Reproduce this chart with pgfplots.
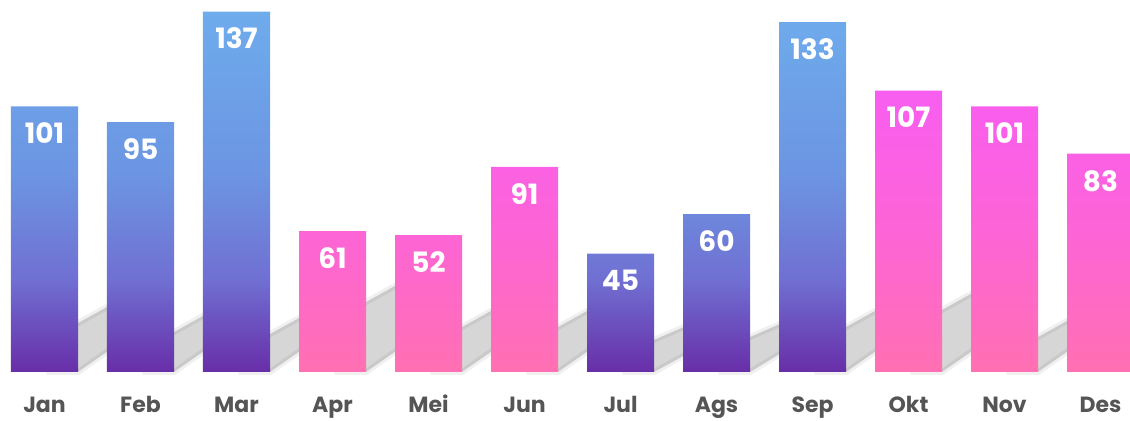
\documentclass[border=0pt]{standalone}
\usepackage{pgfplots}
\pgfplotsset{compat=1.18}
\usepackage{fontspec}
\setmainfont{Poppins}

\definecolor{blueTop}{RGB}{110,172,236}
\definecolor{blueBot}{RGB}{104,46,168}
\definecolor{pinkTop}{RGB}{248,94,240}
\definecolor{pinkBot}{RGB}{255,112,178}
\definecolor{monthGrey}{RGB}{85,85,85}
% vertical gradients, stretched to each bar (25bp = bottom, 75bp = top)
\pgfdeclareverticalshading{bluebar}{100bp}{
    color(0bp)=(blueBot); color(25bp)=(blueBot);
    color(38bp)=(rgb,255:red,112;green,112;blue,210);
    color(52bp)=(rgb,255:red,108;green,148;blue,226);
    color(75bp)=(blueTop); color(100bp)=(blueTop)}
\pgfdeclareverticalshading{pinkbar}{100bp}{
    color(0bp)=(pinkBot); color(25bp)=(pinkBot);
    color(50bp)=(rgb,255:red,253;green,100;blue,214);
    color(75bp)=(pinkTop); color(100bp)=(pinkTop)}

\begin{document}
\begin{tikzpicture}
\begin{axis}[
    width=565pt, height=210.5pt, scale only axis,
    xmin=-0.4635, xmax=11.307,
    ymin=-18.63, ymax=141.44,
    axis line style={draw=none},
    major tick length=0pt,
    ytick=\empty,
    xtick={0,...,11},
    xticklabels={Jan,Feb,Mar,Apr,Mei,Jun,Jul,Ags,Sep,Okt,Nov,Des},
    xticklabel style={anchor=base, yshift=4pt, font=\fontsize{11}{13}\selectfont\bfseries, text=monthGrey},
    clip=true,
]
\coordinate (sw) at (rel axis cs:0,0);
\coordinate (ne) at (rel axis cs:1,1);

% soft grey shadows behind the bars
\pgfplotsset{shadow/.style={fill=black, fill opacity=0.16, draw=black, draw opacity=0.06, line width=3pt, forget plot}}
\addplot[shadow] coordinates {(0.05,0) (0.349,0) (0.799,11.5) (0.799,27.7) (0.349,18.6) (0.05,18.6)} --cycle;
\addplot[shadow] coordinates {(1.05,0) (1.349,0) (1.799,11.5) (1.799,24.3) (1.349,15.2) (1.05,15.2)} --cycle;
\addplot[shadow] coordinates {(2.05,0) (2.349,0) (2.799,11.5) (2.799,23.5) (2.349,14.4) (2.05,14.4)} --cycle;
\addplot[shadow] coordinates {(3.05,0) (3.349,0) (3.799,11.5) (3.799,35.7) (3.349,26.6) (3.05,26.6)} --cycle;
\addplot[shadow] coordinates {(4.05,0) (4.349,0) (4.799,11.5) (4.799,26.2) (4.349,17.1) (4.05,17.1)} --cycle;
\addplot[shadow] coordinates {(5.05,0) (5.349,0) (5.799,11.5) (5.799,26.2) (5.349,17.1) (5.05,17.1)} --cycle;
\addplot[shadow] coordinates {(6.05,0) (6.349,0) (6.799,9.0) (6.799,19.3) (6.349,12.2) (6.05,12.2)} --cycle;
\addplot[shadow] coordinates {(7.05,0) (7.349,0) (7.799,10.0) (7.799,20.4) (7.349,13.3) (7.05,13.3)} --cycle;
\addplot[shadow] coordinates {(8.05,0) (8.349,0) (8.799,11.5) (8.799,26.2) (8.349,17.1) (8.05,17.1)} --cycle;
\addplot[shadow] coordinates {(9.05,0) (9.349,0) (9.799,11.5) (9.799,32.7) (9.349,23.6) (9.05,23.6)} --cycle;
\addplot[shadow] coordinates {(10.05,0) (10.349,0) (10.799,11.5) (10.799,22.4) (10.349,13.3) (10.05,13.3)} --cycle;

% bar heights as drawn; the printed value is given in brackets
\pgfplotsset{valbar/.style={ybar, bar width=0.698, bar shift=0pt, draw=none,
    point meta=explicit symbolic,
    nodes near coords,
    nodes near coords style={anchor=north, inner sep=0pt, yshift=-8pt, text=white,
        font=\fontsize{14}{16}\selectfont\bfseries}}}

% blue bars
\addplot[valbar, shading=bluebar] coordinates {
    (0,101) [101]
    (1,95) [95]
    (2,137) [137]
    (6,45) [45]
    (7,60) [60]
    (8,133) [133]
};
% pink bars
\addplot[valbar, shading=pinkbar] coordinates {
    (3,53.6) [61]
    (4,52) [52]
    (5,78) [91]
    (9,107) [107]
    (10,101) [101]
    (11,83) [83]
};
\end{axis}
\pgfresetboundingbox
\path (sw) rectangle (ne);
\end{tikzpicture}
\end{document}
